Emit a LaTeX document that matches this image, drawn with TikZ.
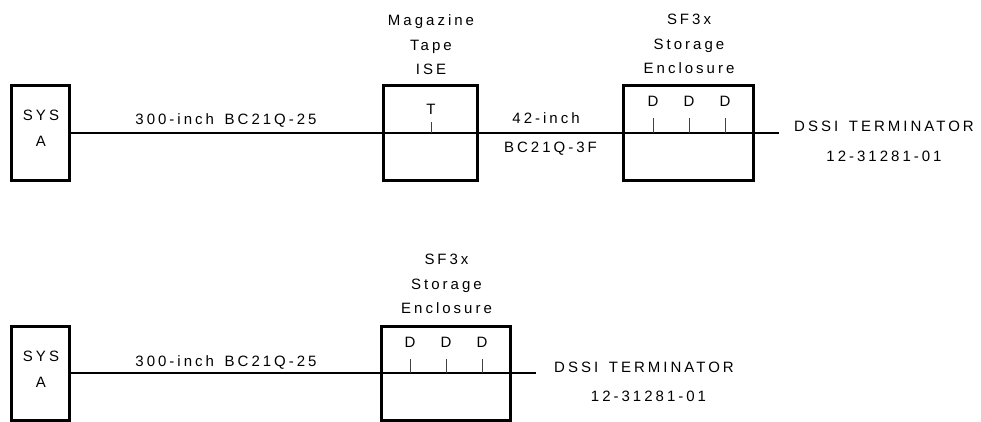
\documentclass[tikz,border=0pt]{standalone}
\usepackage{fontspec}
\setmainfont{Liberation Sans}
\newfontfamily\lblfont[LetterSpace=20,WordSpace=1.5]{Liberation Sans}
\usetikzlibrary{positioning}

\begin{document}
\begin{tikzpicture}[x=1pt,y=-1pt,
  unit/.style={draw,line width=3pt,inner sep=0pt,minimum height=94pt},
  lbl/.style={font=\lblfont\fontsize{15}{24.5}\selectfont,inner sep=0pt,anchor=base},
  ttl/.style={lbl,align=center,anchor=south},
  wire/.style={line width=1.2pt},
  tick/.style={line width=0.9pt,black!75}]
  \useasboundingbox (0,0) rectangle (981,422);
  % upper chain: SYS A -> tape ISE -> SF3x -> terminator
  \node[unit,minimum width=58pt] (sysA) at (40.5,133) {};
  \node[unit,minimum width=94pt] (tape) at (430.5,133) {};
  \node[unit,minimum width=130pt] (sfA) at (688.5,133) {};
  \coordinate (endA) at (779,133);
  \draw[wire] (sysA.east) -- (tape.west) -- (tape.east) -- (sfA.west) -- (sfA.east) -- (endA);
  \node[lbl] (sysAs) at (41,121) {SYS};
  \node[lbl] (sysAa) at (41,147) {A};
  \node[ttl] (tapeT) at (431,75) {Magazine\\Tape\\ISE};
  \node[ttl] (sfAT) at (689,74) {SF3x\\Storage\\Enclosure};
  \node[lbl] (cabA) at (226,125) {300-inch BC21Q-25};
  \node[lbl] (cabB) at (546,124) {42-inch};
  \node[lbl] (cabBp) at (550.5,153) {BC21Q-3F};
  \node[lbl] (termA) at (884,132) {DSSI TERMINATOR};
  \node[lbl] (termAp) at (884,161) {12-31281-01};
  \node[lbl] (tT) at (431,115) {T};
  \draw[tick] (431,122) -- (431,133);
  \foreach \x/\n in {653/1,689/2,725/3} {
    \node[lbl] (dA\n) at (\x,107) {D};
    \draw[tick] (\x,118) -- (\x,133);
  }
  % lower chain: SYS A -> SF3x -> terminator
  \node[unit,minimum width=58pt] (sysB) at (40.5,373) {};
  \node[unit,minimum width=129pt] (sfB) at (446,373) {};
  \coordinate (endB) at (536,373);
  \draw[wire] (sysB.east) -- (sfB.west) -- (sfB.east) -- (endB);
  \node[lbl] (sysBs) at (41,361) {SYS};
  \node[lbl] (sysBa) at (41,387) {A};
  \node[ttl] (sfBT) at (446.5,314) {SF3x\\Storage\\Enclosure};
  \node[lbl] (cabC) at (226,366) {300-inch BC21Q-25};
  \node[lbl] (termB) at (644,372) {DSSI TERMINATOR};
  \node[lbl] (termBp) at (648.5,401) {12-31281-01};
  \foreach \x/\n in {410/1,446/2,482/3} {
    \node[lbl] (dB\n) at (\x,347) {D};
    \draw[tick] (\x,359) -- (\x,373);
  }
\end{tikzpicture}
\end{document}
